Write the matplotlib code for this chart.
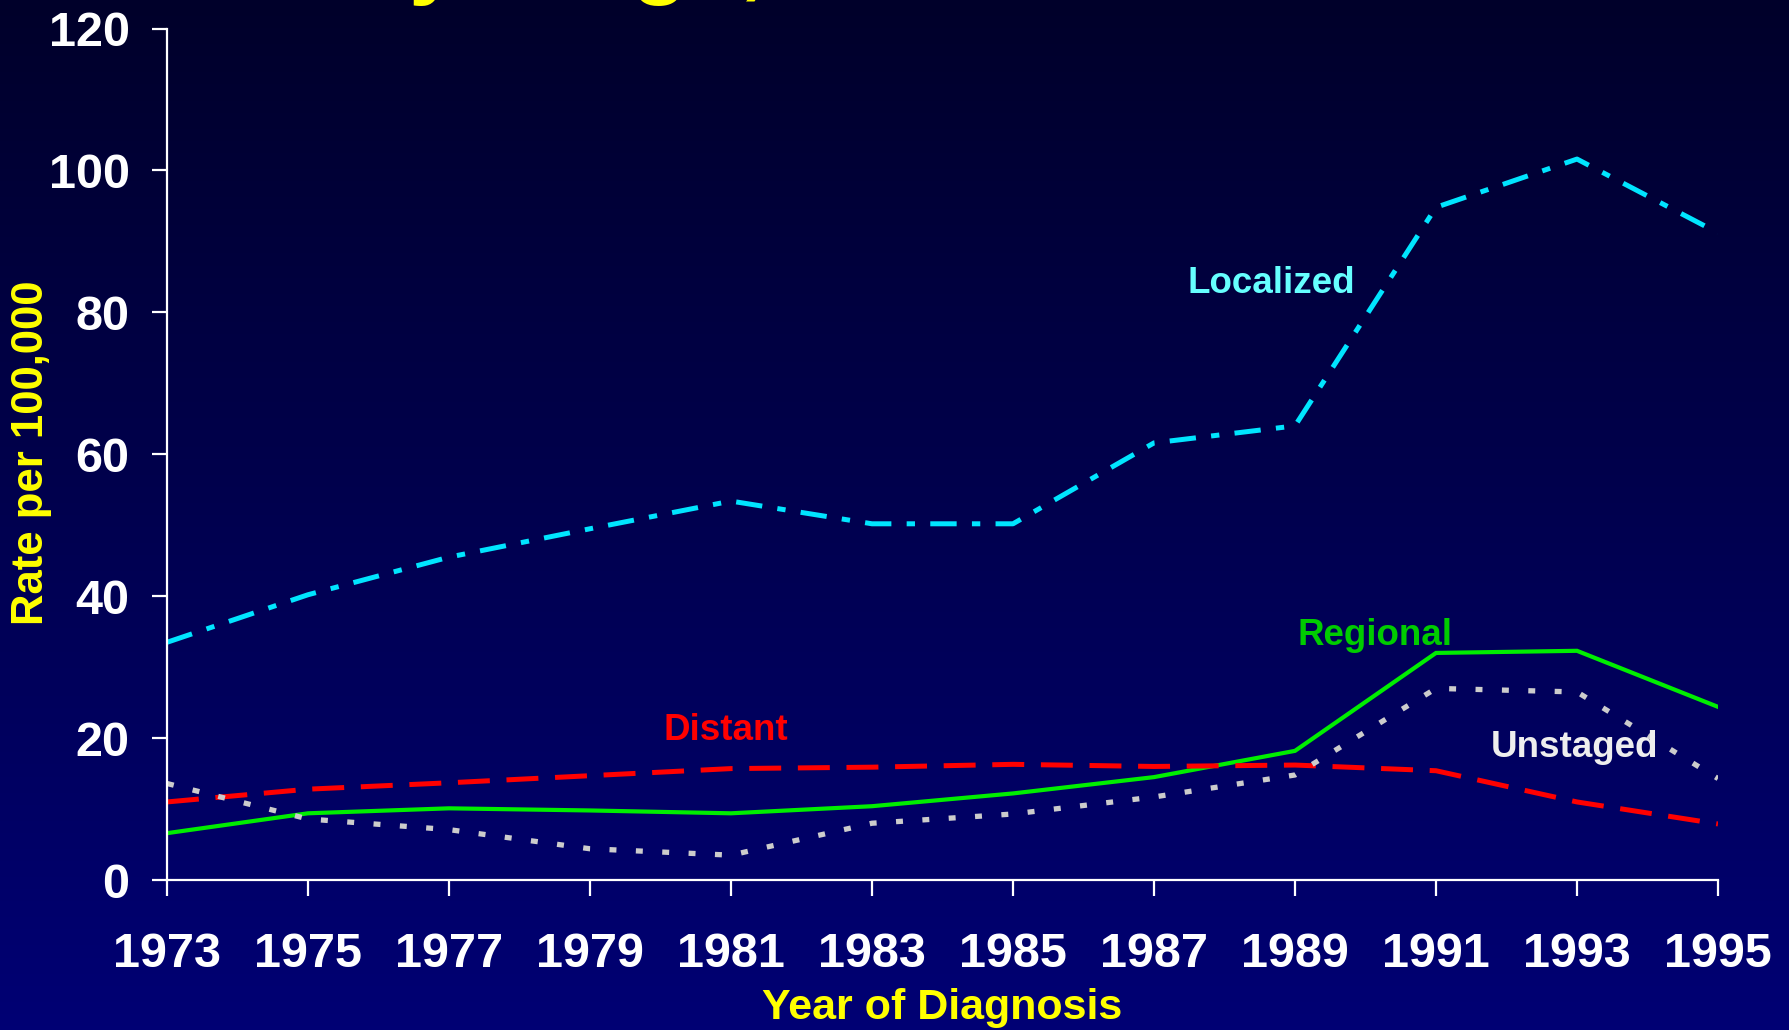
import matplotlib
matplotlib.use("Agg")
import matplotlib.pyplot as plt
import numpy as np

plt.rcParams['font.family'] = ['Liberation Sans', 'DejaVu Sans']
plt.rcParams['font.weight'] = 'bold'
plt.rcParams['lines.scale_dashes'] = False

years = [1973, 1975, 1977, 1979, 1981, 1983, 1985, 1987, 1989, 1991, 1993, 1995]
localized = [33.5, 40.2, 45.5, 49.5, 53.4, 50.2, 50.2, 61.6, 64.0, 94.8, 101.6, 91.2]
regional = [6.6, 9.4, 10.1, 9.8, 9.4, 10.4, 12.2, 14.5, 18.2, 32.0, 32.3, 24.4]
distant = [11.0, 12.8, 13.7, 14.7, 15.7, 15.9, 16.3, 16.0, 16.2, 15.4, 11.0, 7.9]
unstaged = [13.6, 8.6, 7.1, 4.4, 3.5, 8.0, 9.3, 11.7, 14.8, 27.0, 26.5, 14.3]

title_visible = "by Stage, 1973-1995"
ylabel = "Rate per 100,000"
xlabel = "Year of Diagnosis"
yticks = [0, 20, 40, 60, 80, 100, 120]

W, H = 1789, 1030
fig = plt.figure(figsize=(W / 100, H / 100), dpi=100)

# gradient background
bg = fig.add_axes([0, 0, 1, 1])
top = np.array([0, 0, 42]) / 255.0
bot = np.array([0, 0, 116]) / 255.0
t = np.linspace(0, 1, 256)[:, None]
grad = (top[None, :] * (1 - t) + bot[None, :] * t)[:, None, :]
bg.imshow(grad, aspect='auto', extent=[0, 1, 0, 1], origin='upper')
bg.set_axis_off()

ax = fig.add_axes([167 / W, 1 - 880 / H, (1718 - 167) / W, (880 - 28.5) / H])
ax.set_facecolor('none')

ax.plot(years, localized, color='#00e5ff', lw=3.6, dashes=(19, 11, 6, 11),
        dash_capstyle='butt', solid_capstyle='butt')
ax.plot(years, regional, color='#00ee00', lw=3.0, solid_joinstyle='miter')
ax.plot(years, distant, color='#ff0000', lw=3.6, dashes=(23, 12), dash_capstyle='butt')
ax.plot(years, unstaged, color='#cccccc', lw=3.8, dashes=(5, 14), dash_capstyle='butt')

ax.set_xlim(1973, 1995)
ax.set_ylim(0, 120)
ax.set_xticks(years)
ax.set_xticklabels([str(y) for y in years])
ax.set_yticks(yticks)
ax.set_yticklabels([str(v) for v in yticks])

for s in ['top', 'right']:
    ax.spines[s].set_visible(False)
for s in ['left', 'bottom']:
    ax.spines[s].set_color('white')
    ax.spines[s].set_linewidth(1.6)

ax.tick_params(axis='x', direction='out', length=11.5, width=1.6, color='white',
               labelcolor='white', labelsize=35, pad=26)
ax.tick_params(axis='y', direction='out', length=11, width=1.6, color='white',
               labelcolor='white', labelsize=35, pad=16)
for lab in ax.get_xticklabels() + ax.get_yticklabels():
    lab.set_fontweight('bold')

# series labels
ax.text(1988.67, 84.1, "Localized", color='#66ffff', fontsize=26.5, fontweight='bold',
        ha='center', va='center')
ax.text(1990.13, 34.5, "Regional", color='#00cc00', fontsize=26.5, fontweight='bold',
        ha='center', va='center')
ax.text(1992.96, 18.7, "Unstaged", color='#eeeeee', fontsize=26.5, fontweight='bold',
        ha='center', va='center')
ax.text(1980.93, 21.0, "Distant", color='#ff0000', fontsize=26.5, fontweight='bold',
        ha='center', va='center')

fig.text(32 / W, 1 - 453 / H, ylabel, rotation=90, color='#ffff00', fontsize=31.5,
         fontweight='bold', ha='center', va='center')
fig.text(942 / W, 1 - 1008 / H, xlabel, color='#ffff00', fontsize=31,
         fontweight='bold', ha='center', va='center')

# title sits above the visible area in the reference: only descenders show
fig.text(352 / W, 1 + 13.5 / H, title_visible, color='#ffff00', fontsize=67,
         fontweight='bold', ha='left', va='baseline')

fig.savefig("out.png", dpi=100)
